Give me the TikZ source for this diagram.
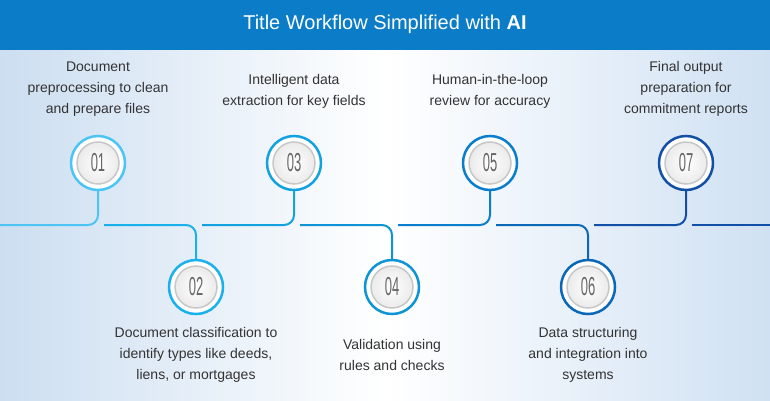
\documentclass[tikz,border=0pt]{standalone}
\usepackage{fontspec}
\setmainfont{Liberation Sans}
\definecolor{bgl}{RGB}{204,222,241}
\definecolor{bgr}{RGB}{208,225,243}
\definecolor{hdr}{RGB}{10,124,200}
\definecolor{c1}{RGB}{76,196,244}
\definecolor{c2}{RGB}{26,176,236}
\definecolor{c3}{RGB}{18,162,224}
\definecolor{c4}{RGB}{14,148,214}
\definecolor{c5}{RGB}{10,126,204}
\definecolor{c6}{RGB}{11,104,184}
\definecolor{c7}{RGB}{17,80,166}
\definecolor{c8}{RGB}{17,80,166}
\begin{document}
\begin{tikzpicture}[x=1pt,y=-1pt,
  lbl/.style={align=center,font=\fontsize{14}{21}\selectfont,text=black!80},
  num/.style={circle,minimum size=42pt,inner sep=0pt,draw=black!22,line width=1.5pt,
     inner color=white,outer color=black!8,text=black!60,font=\fontsize{26}{26}\selectfont},
  ring/.style={circle,minimum size=54pt,inner sep=0pt,line width=2.5pt,fill=white}]
\useasboundingbox (0,0) rectangle (770,400);
\shade[left color=bgl, right color=white] (0,50) rectangle (385,400);
\shade[right color=bgr, left color=white] (385,50) rectangle (770,400);
\fill[hdr] (0,0) rectangle (770,50);
\node[text=white,font=\fontsize{20}{24}\selectfont] (title) at (385,24) {Title Workflow Simplified with \textbf{AI}};
\foreach \i/\x/\y in {1/98/163,2/196/287,3/294/163,4/392/287,5/490/163,6/588/287,7/686/163}{
  \coordinate (s\i) at (\x-92,225);
  \coordinate (k\i) at (\x,225);
  \coordinate (n\i) at (\x,\y);
}
\coordinate (s1) at (0,225);
\foreach \i in {1,...,7}{
  \draw[c\i,line width=2pt,rounded corners=10pt] (s\i) -- (k\i) -- (n\i);
}
\coordinate (e0) at (692,225); \coordinate (e1) at (770,225);
\draw[c8,line width=2pt] (e0) -- (e1);
\foreach \i/\x/\y in {1/98/163,2/196/287,3/294/163,4/392/287,5/490/163,6/588/287,7/686/163}{
  \node[ring,draw=c\i] (r\i) at (\x,\y) {};
  \node[num] (m\i) at (\x,\y) {\scalebox{0.5}[1]{0\i}};
}
\node[lbl] (t1) at (98,89) {Document\\preprocessing to clean\\and prepare files};
\node[lbl] (t3) at (294,91) {Intelligent data\\extraction for key fields};
\node[lbl] (t5) at (490,91) {Human-in-the-loop\\review for accuracy};
\node[lbl] (t7) at (686,89) {Final output\\preparation for\\commitment reports};
\node[lbl] (t2) at (196,355) {Document classification to\\identify types like deeds,\\liens, or mortgages};
\node[lbl] (t4) at (392,355) {Validation using\\rules and checks};
\node[lbl] (t6) at (588,355) {Data structuring\\and integration into\\systems};
\end{tikzpicture}
\end{document}
